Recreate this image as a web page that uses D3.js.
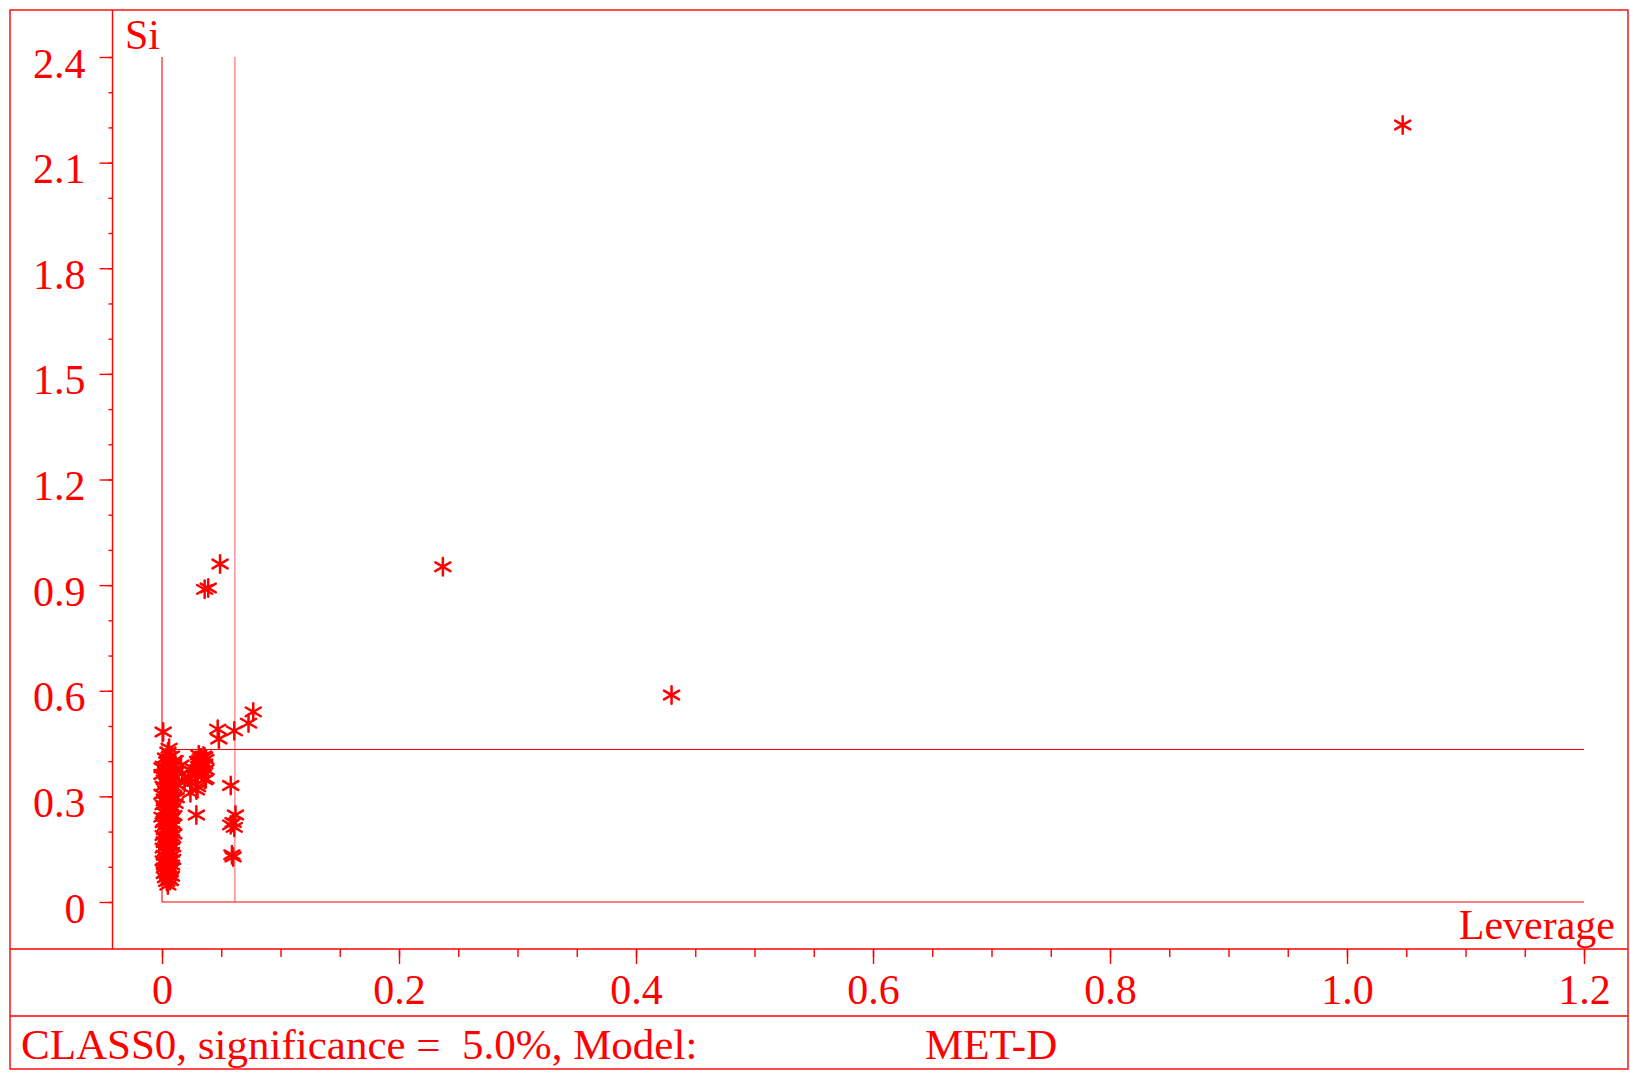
<!DOCTYPE html>
<html>
<head>
<meta charset="utf-8">
<script src="https://cdn.jsdelivr.net/npm/d3@7"></script>
<style>
  html, body { margin: 0; padding: 0; background: #fff; }
  svg { display: block; font-family: "Liberation Serif", "Times New Roman", serif; }
  text { fill: #ff0000; white-space: pre; }
</style>
</head>
<body>
<svg id="chart" width="1630" height="1072"></svg>
<script>
// Axis ranges and tick labels
const xMajorTicks = [0, 0.2, 0.4, 0.6, 0.8, 1.0, 1.2];
const xTickLabels = ["0", "0.2", "0.4", "0.6", "0.8", "1.0", "1.2"];
const yMajorTicks = [0, 0.3, 0.6, 0.9, 1.2, 1.5, 1.8, 2.1, 2.4];
const yTickLabels = ["0", "0.3", "0.6", "0.9", "1.2", "1.5", "1.8", "2.1", "2.4"];

// Critical limits for the 5% significance level
const leverageLimit = 0.0615;
const siLimit = 0.433;

// Samples [leverage, Si]
const mainColumn = [
  [0.004,0.398],[0.009,0.392],[0.001,0.386],[0.006,0.383],[0.011,0.376],[0.003,0.371],
  [0.008,0.366],[0.000,0.362],[0.005,0.357],[0.010,0.352],[0.002,0.347],[0.007,0.343],
  [0.004,0.338],[0.012,0.334],[0.001,0.329],[0.006,0.325],[0.009,0.320],[0.003,0.316],
  [0.007,0.311],[0.000,0.306],[0.005,0.302],[0.010,0.298],[0.002,0.293],[0.008,0.289],
  [0.004,0.284],[0.011,0.280],[0.001,0.276],[0.006,0.271],[0.009,0.267],[0.003,0.263],
  [0.007,0.258],[0.002,0.254],[0.005,0.250],[0.010,0.246],[0.000,0.241],[0.008,0.237],
  [0.004,0.233],[0.006,0.229],[0.001,0.225],[0.009,0.221],[0.003,0.217],[0.007,0.213],
  [0.005,0.209],[0.002,0.205],[0.008,0.201],[0.004,0.197],[0.010,0.193],[0.001,0.189],
  [0.006,0.185],[0.003,0.181],[0.008,0.177],[0.005,0.173],[0.002,0.169],[0.007,0.165],
  [0.004,0.161],[0.009,0.157],[0.001,0.153],[0.006,0.149],[0.003,0.145],[0.008,0.141],
  [0.005,0.137],[0.002,0.133],[0.007,0.129],[0.004,0.125],[0.009,0.121],[0.001,0.117],
  [0.006,0.113],[0.003,0.109],[0.008,0.105],[0.005,0.101],[0.002,0.097],[0.007,0.093],
  [0.004,0.089],[0.006,0.085],[0.002,0.081],[0.005,0.077],[0.008,0.073],[0.003,0.069],
  [0.006,0.064],[0.004,0.058],[0.005,0.048],
  [0.006,0.395],[0.002,0.379],[0.008,0.361],[0.004,0.349],[0.010,0.327],[0.005,0.309],
  [0.002,0.287],[0.007,0.274],[0.004,0.260],[0.009,0.243],[0.002,0.231],[0.006,0.219],
  [0.004,0.203],[0.008,0.187],[0.002,0.171],[0.006,0.159],[0.004,0.139],[0.008,0.119],
  [0.002,0.111],[0.006,0.095],[0.003,0.083],[0.007,0.061]
];

const upperLeft = [
  [0.001,0.483],[0.006,0.437],[0.005,0.426],[0.003,0.409],[0.000,0.381],[0.008,0.415],
  [0.011,0.402],[0.016,0.389],[0.013,0.372],[0.019,0.340],[0.012,0.296],[0.005,0.300],
  [0.017,0.365]
];

const middleGroup = [
  [0.024,0.338],[0.029,0.318],[0.026,0.380],[0.030,0.327],[0.024,0.310],[0.037,0.350],
  [0.036,0.347],[0.029,0.247],[0.022,0.355],[0.028,0.360],
  [0.031,0.418],[0.033,0.410],[0.035,0.415],[0.037,0.405],[0.030,0.400],[0.032,0.395],
  [0.034,0.398],[0.036,0.392],[0.031,0.385],[0.033,0.380],[0.035,0.386],[0.037,0.376],
  [0.030,0.372],[0.034,0.370],[0.032,0.404],[0.036,0.412]
];

const nearLimit = [
  [0.047,0.491],[0.048,0.463],[0.061,0.486],[0.073,0.508],[0.077,0.540],[0.058,0.331],
  [0.062,0.247],[0.060,0.226],[0.058,0.219],[0.061,0.212],[0.059,0.134],[0.060,0.128]
];

const outliers = [
  [0.049,0.960],[0.036,0.888],[0.039,0.892],[0.237,0.952],[0.430,0.588],[1.047,2.207]
];

const samples = [].concat(mainColumn, upperLeft, middleGroup, nearLimit, outliers);

const RED = "#ff0000";
const svg = d3.select("#chart");

const x = d3.scaleLinear().domain([0, 1.2]).range([162, 1584]);
const y = d3.scaleLinear().domain([0, 2.4]).range([902, 57]);

// Frame and panel dividers
const frame = svg.append("g").attr("stroke", RED).attr("stroke-width", 1.4).attr("fill", "none");
frame.append("rect").attr("x", 10).attr("y", 10).attr("width", 1618).attr("height", 1059);
frame.append("line").attr("x1", 10).attr("x2", 1628).attr("y1", 949).attr("y2", 949);
frame.append("line").attr("x1", 10).attr("x2", 1628).attr("y1", 1016).attr("y2", 1016);
frame.append("line").attr("x1", 112.5).attr("x2", 112.5).attr("y1", 10).attr("y2", 949);

// Y axis: minor ticks then labelled major ticks
const yMinor = d3.axisLeft(y).tickValues(d3.range(0, 25).map(i => i / 10))
  .tickSize(4).tickFormat("");
svg.append("g").attr("transform", "translate(112.5,0)").call(yMinor)
  .call(g => g.select(".domain").remove());
const yMajor = d3.axisLeft(y).tickValues(yMajorTicks).tickSize(13)
  .tickFormat((d, i) => yTickLabels[i]);
svg.append("g").attr("transform", "translate(112.5,0)").call(yMajor)
  .call(g => g.select(".domain").remove())
  .call(g => g.selectAll("text").attr("x", -27).attr("dy", null).attr("y", 20)
    .attr("font-size", 42).attr("font-family", "Liberation Serif").attr("fill", RED));

// X axis: minor ticks then labelled major ticks
const xMinor = d3.axisBottom(x).tickValues(d3.range(0, 25).map(i => i * 0.05))
  .tickSize(8).tickFormat("");
svg.append("g").attr("transform", "translate(0,949)").call(xMinor)
  .call(g => g.select(".domain").remove());
const xMajor = d3.axisBottom(x).tickValues(xMajorTicks).tickSize(15)
  .tickFormat((d, i) => xTickLabels[i]);
svg.append("g").attr("transform", "translate(0,949)").call(xMajor)
  .call(g => g.select(".domain").remove())
  .call(g => g.selectAll("text").attr("dy", null).attr("y", 55)
    .attr("font-size", 42).attr("font-family", "Liberation Serif").attr("fill", RED));

svg.selectAll(".tick line").attr("stroke", RED).attr("stroke-width", 1.4);

// Reference lines: zero axes and critical limits
const refs = svg.append("g").attr("stroke", RED).attr("stroke-width", 1.1);
refs.append("line").attr("x1", x(0)).attr("x2", x(1.2)).attr("y1", y(0)).attr("y2", y(0));
refs.append("line").attr("x1", x(0)).attr("x2", x(0)).attr("y1", y(0)).attr("y2", y(2.4));
refs.append("line").attr("x1", x(leverageLimit)).attr("x2", x(leverageLimit))
  .attr("y1", y(0)).attr("y2", y(2.4)).attr("stroke-opacity", 0.6);
refs.append("line").attr("x1", x(0)).attr("x2", x(1.2))
  .attr("y1", y(siLimit)).attr("y2", y(siLimit));

// Sample markers
const star = d3.symbol().type(d3.symbolAsterisk).size(215);
svg.append("g").selectAll("path").data(samples).join("path")
  .attr("transform", d => `translate(${x(d[0])},${y(d[1])})`)
  .attr("d", star)
  .attr("fill", "none")
  .attr("stroke", RED)
  .attr("stroke-width", 2.5)
  .attr("stroke-linecap", "round");

// Titles
svg.append("text").attr("x", 125).attr("y", 49).attr("font-size", 42).text("Si");
svg.append("text").attr("x", 1615).attr("y", 939).attr("font-size", 42)
  .attr("text-anchor", "end").text("Leverage");
svg.append("text").attr("x", 21).attr("y", 1059).attr("font-size", 43)
  .text("CLASS0, significance =  5.0%, Model:");
svg.append("text").attr("x", 925).attr("y", 1059).attr("font-size", 43).text("MET-D");
</script>
</body>
</html>
